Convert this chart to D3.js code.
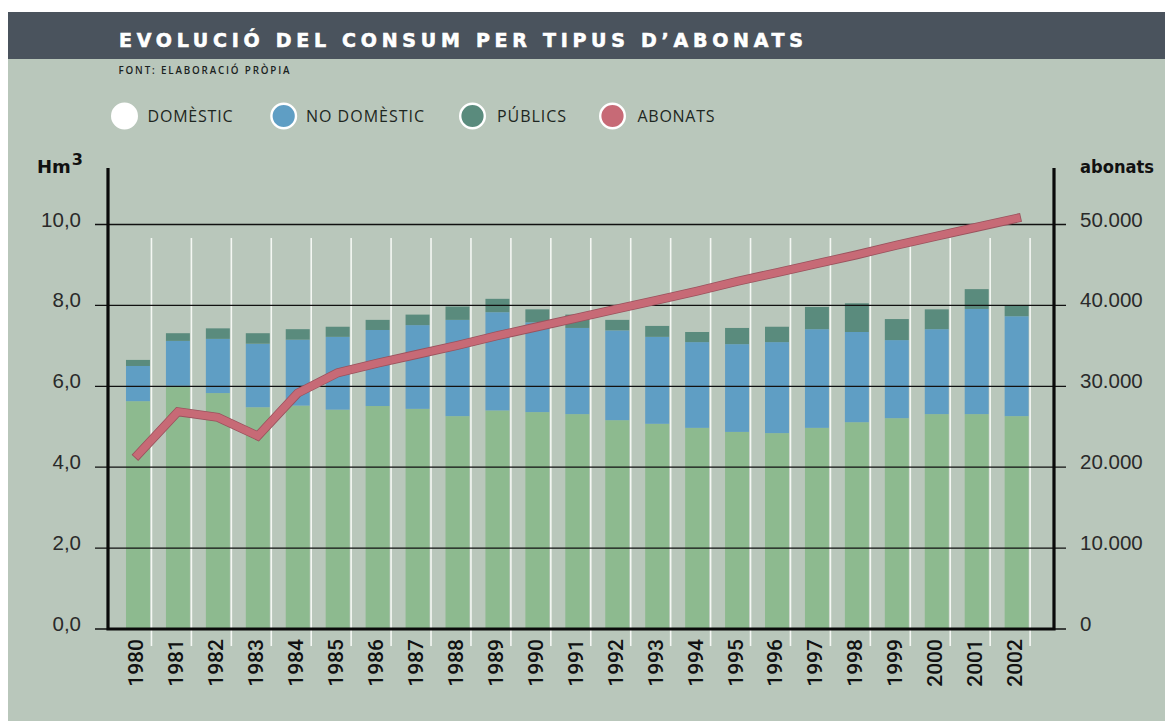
<!DOCTYPE html>
<html>
<head>
<meta charset="utf-8">
<script src="https://cdn.jsdelivr.net/npm/d3@7"></script>
<style>
  body { margin: 0; background: #fff; }
  svg { display: block; }
</style>
</head>
<body>
<svg id="chart"></svg>
<script>
const width = 1165;
const height = 721;

// Data (Hm3 per year, stacked)
const years = ["1980", "1981", "1982", "1983", "1984", "1985", "1986", "1987", "1988", "1989", "1990", "1991",
    "1992", "1993", "1994", "1995", "1996", "1997", "1998", "1999", "2000", "2001", "2002"];
const domestic = [5.62, 6.00, 5.82, 5.47, 5.51, 5.41, 5.50, 5.43, 5.25, 5.39, 5.35, 5.30,
    5.15, 5.06, 4.96, 4.86, 4.83, 4.96, 5.10, 5.20, 5.30, 5.30, 5.25];
const noDomestic = [0.87, 1.11, 1.34, 1.57, 1.63, 1.80, 1.88, 2.07, 2.38, 2.43, 2.22, 2.13,
    2.22, 2.15, 2.12, 2.17, 2.25, 2.44, 2.23, 1.93, 2.10, 2.60, 2.47];
const publics = [0.15, 0.19, 0.26, 0.26, 0.26, 0.25, 0.25, 0.26, 0.33, 0.33, 0.32, 0.33,
    0.26, 0.27, 0.25, 0.40, 0.38, 0.55, 0.71, 0.52, 0.49, 0.49, 0.26];
const abonats = [21500, 26800, 26100, 23800, 29100, 31600, 32800, 33900, 35000, 36200, 37300, 38400,
    39500, 40600, 41700, 42900, 44000, 45100, 46200, 47400, 48500, 49600, 50700];

const leftTicks = [0, 2, 4, 6, 8, 10];
const rightTicks = [0, 10000, 20000, 30000, 40000, 50000];
const legendItems = ["DOMÈSTIC", "NO DOMÈSTIC", "PÚBLICS", "ABONATS"];
const seriesKeys = ["domestic", "noDomestic", "publics"];

const colors = {
    domestic: "#8dba8f",
    noDomestic: "#5f9ec4",
    publics: "#5a8b7d",
    abonats: "#c76a76"
};
const legendColors = ["#ffffff", colors.noDomestic, colors.publics, colors.abonats];

const svg = d3.select("#chart")
    .attr("width", width)
    .attr("height", height);

// background panel + title bar
svg.append("rect").attr("x", 8).attr("y", 12).attr("width", width - 8).attr("height", 709)
    .attr("fill", "#b9c7bb");
svg.append("rect").attr("x", 8).attr("y", 12).attr("width", width - 8).attr("height", 47)
    .attr("fill", "#4a535d");

svg.append("text")
    .attr("x", 119).attr("y", 46.5)
    .attr("textLength", 684).attr("lengthAdjust", "spacing")
    .attr("font-family", "DejaVu Sans").attr("font-weight", "bold").attr("font-size", 19)
    .attr("fill", "#ffffff").attr("stroke", "#ffffff").attr("stroke-width", 0.6)
    .text("EVOLUCIÓ DEL CONSUM PER TIPUS D’ABONATS");

svg.append("text")
    .attr("x", 118.5).attr("y", 74)
    .attr("textLength", 171).attr("lengthAdjust", "spacing")
    .attr("font-family", "Open Sans").attr("font-weight", 600).attr("font-size", 9.8)
    .attr("fill", "#1a221e")
    .text("FONT: ELABORACIÓ PRÒPIA");

// legend
const legendX = [124.5, 283.7, 472.5, 612.5];
const legendTextX = [147.5, 306, 497, 637.5];
const legendTextLen = [85, 118, 69, 77];
const legend = svg.append("g").attr("class", "legend");
legendItems.forEach((name, i) => {
    legend.append("circle")
        .attr("cx", legendX[i]).attr("cy", 116).attr("r", 12.3)
        .attr("fill", legendColors[i])
        .attr("stroke", "#ffffff").attr("stroke-width", 2.4);
    legend.append("text")
        .attr("x", legendTextX[i]).attr("y", 121.7)
        .attr("textLength", legendTextLen[i]).attr("lengthAdjust", "spacing")
        .attr("font-family", "Open Sans").attr("font-weight", 500).attr("font-size", 16)
        .attr("fill", "#1d2621")
        .text(name);
});

// scales
const x = d3.scaleBand().domain(years).range([118, 1036.6]).paddingInner(0.4).paddingOuter(0.2);
const y = d3.scaleLinear().domain([0, 10]).range([628.5, 224]);
const y2 = d3.scaleLinear().domain([0, 50000]).range([628.5, 224]);

// white separators
svg.append("g").selectAll("line")
    .data(years)
    .enter().append("line")
    .attr("x1", d => x(d) + x.bandwidth() + 1.5)
    .attr("x2", d => x(d) + x.bandwidth() + 1.5)
    .attr("y1", 238).attr("y2", 646)
    .attr("stroke", "#f4f7f3").attr("stroke-width", 1.6);

// stacked bars
const table = years.map((yr, i) => ({
    year: yr, domestic: domestic[i], noDomestic: noDomestic[i], publics: publics[i]
}));
const stacked = d3.stack().keys(seriesKeys)(table);

svg.append("g").attr("class", "bars")
    .selectAll("g")
    .data(stacked)
    .enter().append("g")
    .attr("fill", d => colors[d.key])
    .selectAll("rect")
    .data(d => d)
    .enter().append("rect")
    .attr("x", d => x(d.data.year))
    .attr("width", x.bandwidth())
    .attr("y", d => y(d[1]))
    .attr("height", d => y(d[0]) - y(d[1]));

// gridlines
const grid = svg.append("g")
    .attr("transform", "translate(95,0)")
    .call(d3.axisRight(y).tickValues(leftTicks).tickSize(971).tickFormat(""));
grid.select(".domain").remove();
grid.selectAll(".tick line").attr("stroke", "#111").attr("stroke-width", 1.3);

// tick labels
const leftAxis = svg.append("g")
    .attr("transform", "translate(108,0)")
    .call(d3.axisLeft(y).tickValues(leftTicks).tickSize(0).tickPadding(27)
        .tickFormat(d => d.toFixed(1).replace(".", ",")));
leftAxis.select(".domain").remove();
leftAxis.selectAll("text")
    .attr("font-family", "Liberation Sans").attr("font-size", 20.5)
    .attr("fill", "#2a2a2a").attr("dy", "0.1em");

const rightAxis = svg.append("g")
    .attr("transform", "translate(1054,0)")
    .call(d3.axisRight(y2).tickValues(rightTicks).tickSize(0).tickPadding(26)
        .tickFormat(d => d3.format(",")(d).replace(/,/g, ".")));
rightAxis.select(".domain").remove();
rightAxis.selectAll("text")
    .attr("font-family", "Liberation Sans").attr("font-size", 20.5)
    .attr("fill", "#2a2a2a").attr("dy", "0.1em");

// frame (axes)
svg.append("path")
    .attr("d", `M108,168 V629 H1054 V168`)
    .attr("fill", "none").attr("stroke", "#0a0a0a").attr("stroke-width", 3.2);

// axis titles
const hm = svg.append("text")
    .attr("x", 37).attr("y", 172.5)
    .attr("font-family", "DejaVu Sans").attr("font-weight", "bold").attr("font-size", 18)
    .attr("fill", "#111");
hm.append("tspan").text("Hm");
hm.append("tspan").attr("font-size", 16).attr("dy", -8).attr("dx", 1).text("3");

svg.append("text")
    .attr("x", 1080).attr("y", 172.5)
    .attr("textLength", 74).attr("lengthAdjust", "spacingAndGlyphs")
    .attr("font-family", "DejaVu Sans").attr("font-weight", "bold").attr("font-size", 18)
    .attr("fill", "#111")
    .text("abonats");

// year labels
svg.append("g").selectAll("text")
    .data(years)
    .enter().append("text")
    .attr("transform", d => `translate(${x(d) + x.bandwidth() / 2 + 5.5},639) rotate(-90)`)
    .attr("text-anchor", "end")
    .attr("font-family", "Roboto").attr("font-weight", 500).attr("font-size", 21)
    .attr("fill", "#111")
    .text(d => d);

// abonats line
const line = d3.line()
    .x((d, i) => x(years[i]) + x.bandwidth() / 2)
    .y(d => y2(d));

svg.append("path")
    .datum(abonats)
    .attr("d", line)
    .attr("fill", "none")
    .attr("stroke", "#9a525d").attr("stroke-width", 9)
    .attr("stroke-linecap", "square").attr("stroke-linejoin", "miter");
svg.append("path")
    .datum(abonats)
    .attr("d", line)
    .attr("fill", "none")
    .attr("stroke", colors.abonats).attr("stroke-width", 7.4)
    .attr("stroke-linecap", "square").attr("stroke-linejoin", "miter");
</script>
</body>
</html>
